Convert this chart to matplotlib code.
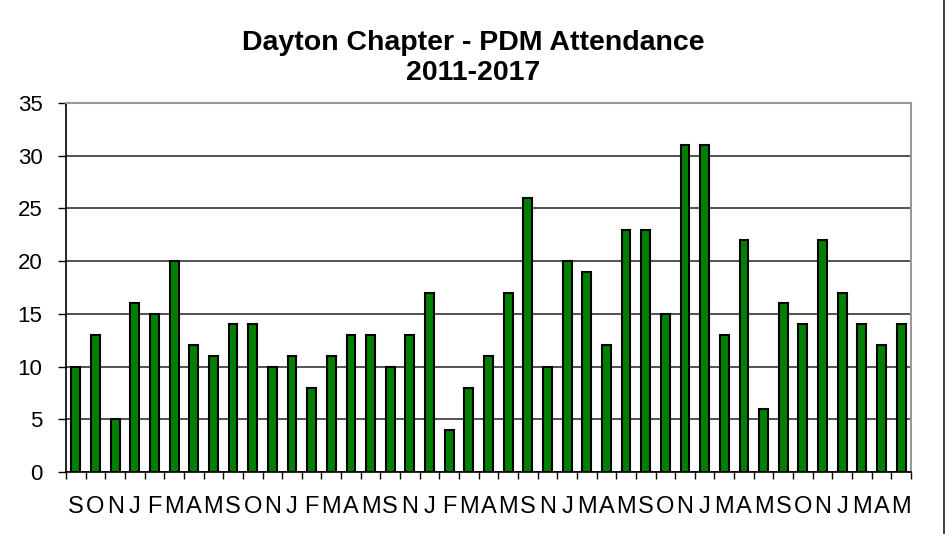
import numpy as np
import matplotlib.pyplot as plt
from matplotlib.lines import Line2D

# month initials, one per meeting
months = ['S', 'O', 'N', 'J', 'F', 'M', 'A', 'M',
          'S', 'O', 'N', 'J', 'F', 'M', 'A', 'M',
          'S', 'N', 'J', 'F', 'M', 'A', 'M',
          'S', 'N', 'J', 'M', 'A', 'M',
          'S', 'O', 'N', 'J', 'M', 'A', 'M',
          'S', 'O', 'N', 'J', 'M', 'A', 'M']
attendance = [10, 13, 5, 16, 15, 20, 12, 11,
              14, 14, 10, 11, 8, 11, 13, 13,
              10, 13, 17, 4, 8, 11, 17,
              26, 10, 20, 19, 12, 23,
              23, 15, 31, 31, 13, 22, 6,
              16, 14, 22, 17, 14, 12, 14]
y_ticks = [0, 5, 10, 15, 20, 25, 30, 35]

plt.rcParams['font.family'] = ['Liberation Sans', 'DejaVu Sans']

fig = plt.figure(figsize=(9.46, 5.34), dpi=100)
ax = fig.add_axes([66 / 946, 62 / 534, 845 / 946, 369 / 534])

x = np.arange(len(attendance))
ax.bar(x, attendance, width=0.45, color='#008000', edgecolor='black',
       linewidth=1.5, zorder=3)

ax.set_xlim(-0.5, len(attendance) - 0.5)
ax.set_ylim(0, 35)
ax.set_yticks(y_ticks)
ax.yaxis.grid(True, color='#333333', linewidth=1.2, zorder=0)

ax.set_xticks(x)
ax.set_xticklabels(months)
ax.set_xticks(np.arange(-0.5, len(attendance)), minor=True)
ax.tick_params(axis='x', which='major', length=0, pad=17, labelsize=17)
ax.tick_params(axis='x', which='minor', length=5, width=1, direction='out')
ax.tick_params(axis='y', length=6, width=1, direction='out', labelsize=16, pad=11)

for side in ['top', 'right']:
    ax.spines[side].set_color('#999999')
    ax.spines[side].set_linewidth(1.5)
for side in ['left', 'bottom']:
    ax.spines[side].set_color('black')
    ax.spines[side].set_linewidth(1.2)

fig.text(0.5, 1 - 58 / 534, 'Dayton Chapter - PDM Attendance\n2011-2017',
         ha='center', va='center', fontsize=20.5, fontweight='bold',
         linespacing=1.15)

# outer chart border on the right
fig.add_artist(Line2D([944 / 946, 944 / 946], [0, 1], color='#222222',
                      linewidth=1.2, transform=fig.transFigure))

fig.savefig('out.png', dpi=100)
